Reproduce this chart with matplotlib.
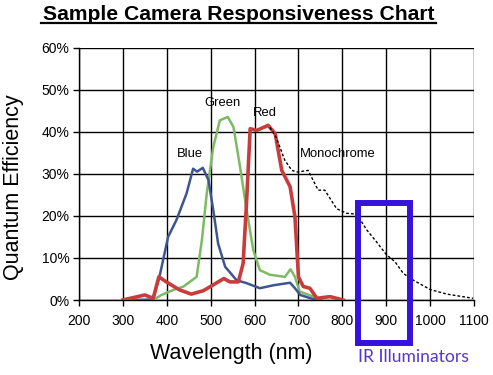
import matplotlib
matplotlib.use("Agg")
import matplotlib.pyplot as plt
from matplotlib.patches import Rectangle
from matplotlib.ticker import FuncFormatter

plt.rcParams['font.family'] = ['Liberation Sans', 'DejaVu Sans']

blue_nm = [300, 369, 385, 403, 422, 445, 460, 469, 482, 495, 506, 517, 533, 559, 582, 612, 643, 681, 692, 704, 734, 752]
blue_qe = [0, 0.1, 6.3, 15, 19, 25.3, 31.2, 30.5, 31.4, 28.5, 21.3, 13.4, 7.9, 4.7, 4.0, 2.8, 3.5, 4.1, 2.8, 1.2, 0.2, 0]

green_nm = [353, 369, 388, 415, 438, 468, 480, 491, 506, 521, 539, 552, 567, 582, 597, 612, 635, 669, 682, 692, 703, 734, 749]
green_qe = [0, 0, 1.2, 2.4, 3.2, 5.5, 14.2, 25.3, 36.4, 42.7, 43.5, 41.1, 31.6, 21.3, 11.9, 7.1, 6.0, 5.5, 7.3, 5.5, 2.0, 0.8, 0]

red_nm = [300, 350, 369, 382, 399, 429, 456, 483, 506, 530, 544, 563, 574, 582, 590, 605, 631, 647, 662, 681, 692, 700, 711, 726, 742, 772, 802]
red_qe = [0, 1.2, 0.4, 5.5, 4.3, 2.4, 1.4, 2.2, 3.6, 5.1, 4.3, 4.3, 8.7, 23.7, 40.7, 40.3, 41.5, 39.5, 30.8, 26.9, 19.8, 5.5, 3.2, 2.8, 0.4, 0.8, 0]

mono_nm = [635, 649, 669, 685, 698, 722, 745, 760, 787, 810, 833, 856, 878, 901, 920, 939, 962, 1000, 1038, 1098]
mono_qe = [41, 38.7, 33.2, 30.8, 30.4, 30.8, 26.1, 26.1, 21.7, 20.6, 20.4, 16.6, 13.8, 10.7, 9.1, 6.3, 4.7, 2.5, 1.4, 0.4]

x_ticks = [200, 300, 400, 500, 600, 700, 800, 900, 1000, 1100]
y_ticks = [0, 10, 20, 30, 40, 50, 60]

fig = plt.figure(figsize=(4.93, 3.75), dpi=100)
ax = fig.add_axes([79/493, 1-300/375, (474-79)/493, (300-47.5)/375])

ax.plot(green_nm, green_qe, color='#7dba63', lw=1.8, zorder=3)
ax.plot(blue_nm, blue_qe, color='#3e5590', lw=1.8, zorder=4)
ax.plot(red_nm, red_qe, color='#c83c3c', lw=2.6, zorder=5)
ax.plot(mono_nm, mono_qe, color='black', lw=1.0, ls=(0, (2, 1.5)), zorder=6)

ax.set_xlim(200, 1100)
ax.set_ylim(0, 60)
ax.set_xticks(x_ticks)
ax.set_yticks(y_ticks)
ax.yaxis.set_major_formatter(FuncFormatter(lambda v, p: f"{int(v)}%"))
ax.grid(True, color='black', lw=1.0)
for s in ['top', 'right']:
    ax.spines[s].set_visible(False)
for s in ['left', 'bottom']:
    ax.spines[s].set_linewidth(1.0)
ax.tick_params(axis='both', length=4, width=1.0, labelsize=10, colors='black', pad=6)
ax.tick_params(axis='y', pad=3)

fig.text(231/493, 1-353/375, 'Wavelength (nm)', fontsize=15.5, ha='center', va='center')
fig.text(14/493, 1-187/375, 'Quantum Efficiency', fontsize=15.5, ha='center', va='center',
         rotation=90)

ax.text(453, 34.6, 'Blue', fontsize=9.4, ha='center', va='center')
ax.text(528, 46.8, 'Green', fontsize=9.4, ha='center', va='center')
ax.text(624, 44.4, 'Red', fontsize=9.4, ha='center', va='center')
ax.text(703, 34.6, 'Monochrome', fontsize=9.4, ha='left', va='center')

rect = Rectangle((836, -10.1), 954-836, 23.0+10.1, fill=False, edgecolor='#3613dc',
                 lw=4.3, clip_on=False, zorder=7)
ax.add_patch(rect)
fig.text(413/493, 1-357/375, 'IR Illuminators', fontsize=12.6, color='#5636cf',
         ha='center', va='center', family=['Lato', 'DejaVu Sans'])

t = fig.text(238.5/493, 1-14/375, 'Sample Camera Responsiveness Chart', fontsize=15.2,
             fontweight='bold', ha='center', va='center')
fig.add_artist(plt.Line2D([41/493, 436/493], [1-22.5/375, 1-22.5/375], color='black', lw=1.6))

fig.savefig('out.png', dpi=100, facecolor='white')
